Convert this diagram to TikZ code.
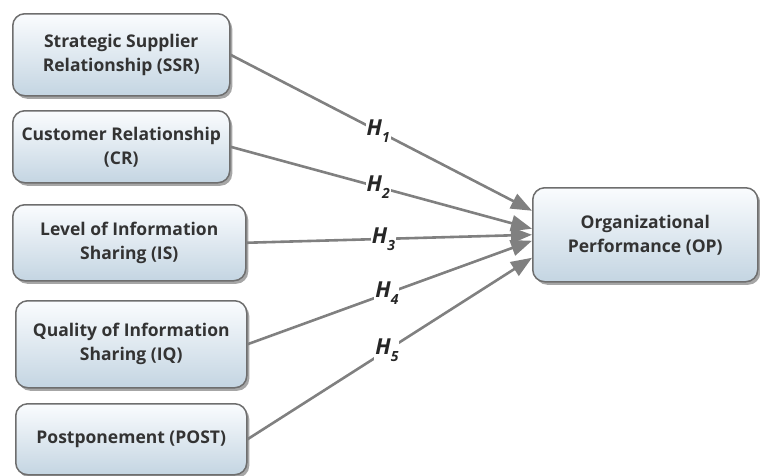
\documentclass[tikz,border=0pt]{standalone}
\usepackage{fontspec}
\setmainfont{Open Sans}
\usetikzlibrary{arrows.meta,shadows}
\definecolor{boxline}{HTML}{6E6E6E}
\definecolor{boxtop}{HTML}{FAFCFE}
\definecolor{boxbot}{HTML}{C4D5E2}
\definecolor{arrowgray}{HTML}{808080}
\definecolor{textgray}{HTML}{333333}
\newcommand{\hname}[1]{H\raisebox{-7pt}{\fontsize{14}{14}\selectfont #1}}

\begin{document}
\begin{tikzpicture}[x=1pt, y=1pt, >={Triangle[length=21pt,width=16pt]},
  every node/.style={font=\fontsize{17.5}{24}\selectfont\bfseries, align=center, text=textgray},
  varbox/.style={draw=boxline, line width=1.5pt, rounded corners=12pt, top color=boxtop, bottom color=boxbot, anchor=north west,
    drop shadow={shadow xshift=2.5pt, shadow yshift=-3pt, fill=black, opacity=0.35}},
  hyp/.style={->, draw=arrowgray, line width=2.6pt},
  hlab/.style={fill=white, inner sep=1pt, font=\fontsize{22}{22}\selectfont\bfseries\itshape, text=black!85}]
\useasboundingbox (0,0) rectangle (760,-475);
\node[varbox, minimum width=217pt, minimum height=82pt] (ssr) at (12,-13) {Strategic Supplier\\Relationship (SSR)};
\node[varbox, minimum width=217pt, minimum height=72pt] (cr) at (12,-110) {Customer Relationship\\(CR)};
\node[varbox, minimum width=233pt, minimum height=76pt] (is) at (12,-204) {Level of Information\\Sharing (IS)};
\node[varbox, minimum width=231pt, minimum height=87pt] (iq) at (15,-300) {Quality of Information\\Sharing (IQ)};
\node[varbox, minimum width=231pt, minimum height=71pt] (post) at (15,-403) {Postponement (POST)};
\node[varbox, minimum width=225pt, minimum height=94pt] (op) at (532,-187) {Organizational\\Performance (OP)};
% hypotheses
\draw[hyp] (ssr.east) -- node[hlab, pos=0.49] {\hname{1}} ([yshift=24pt]op.west);
\draw[hyp] (cr.east) -- node[hlab, pos=0.49] {\hname{2}} ([yshift=6pt]op.west);
\draw[hyp] (is.east) -- node[hlab, pos=0.48] {\hname{3}} (op.west);
\draw[hyp] (iq.east) -- node[hlab, pos=0.49] {\hname{4}} ([yshift=-6pt]op.west);
\draw[hyp] (post.east) -- node[hlab, pos=0.49] {\hname{5}} ([yshift=-23pt]op.west);
\end{tikzpicture}
\end{document}
